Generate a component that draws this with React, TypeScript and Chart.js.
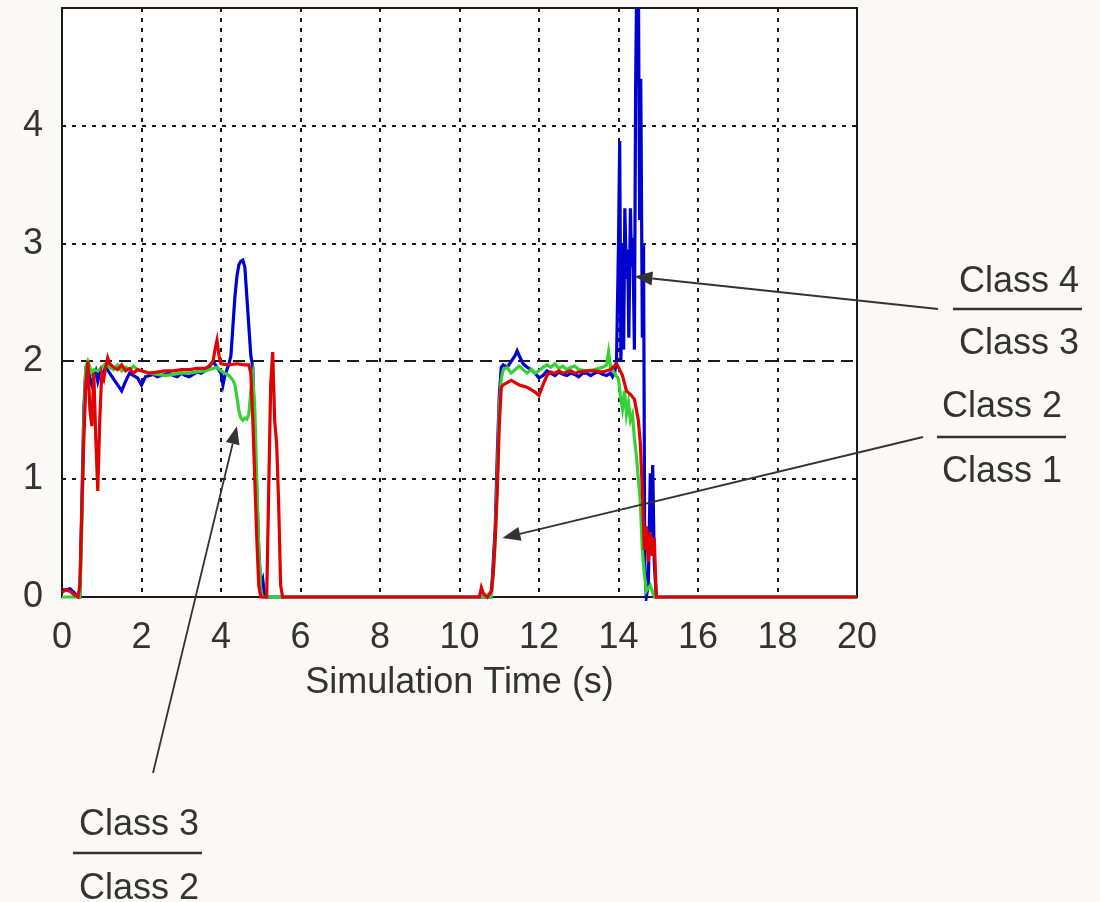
import React, { useEffect, useRef } from "react";
import { Chart, registerables } from "chart.js";

Chart.register(...registerables);

// ---- Data (time in s, ratio value) ----
const xTickValues = [0, 2, 4, 6, 8, 10, 12, 14, 16, 18, 20];
const yTickValues = [0, 1, 2, 3, 4];
const axisTitle = "Simulation Time (s)";

// Class 4 / Class 3 (blue)
const ratio43: [number, number][] = [
  [0, 0.06], [0.1, 0.06], [0.2, 0.07], [0.3, 0.04], [0.4, 0], [0.45, 0], [0.5, 0.8], [0.55, 1.6],
  [0.6, 1.95], [0.65, 1.98], [0.7, 1.85], [0.75, 1.8], [0.8, 1.88], [0.85, 1.92], [0.9, 1.83],
  [0.95, 1.9], [1.0, 1.88], [1.1, 1.95], [1.2, 1.9], [1.3, 1.85], [1.4, 1.8], [1.5, 1.75],
  [1.6, 1.83], [1.7, 1.9], [1.8, 1.88], [1.9, 1.86], [2.0, 1.8], [2.1, 1.87], [2.2, 1.88],
  [2.3, 1.89], [2.4, 1.87], [2.5, 1.88], [2.6, 1.89], [2.7, 1.9], [2.8, 1.88], [2.9, 1.87],
  [3.0, 1.9], [3.1, 1.88], [3.2, 1.87], [3.3, 1.89], [3.4, 1.91], [3.5, 1.9], [3.6, 1.92],
  [3.7, 1.95], [3.8, 2.0], [3.9, 1.95], [4.0, 1.9], [4.05, 1.8], [4.1, 1.88], [4.2, 1.98],
  [4.25, 2.05], [4.3, 2.3], [4.35, 2.55], [4.4, 2.72], [4.45, 2.82], [4.5, 2.85], [4.55, 2.86],
  [4.6, 2.8], [4.65, 2.55], [4.7, 2.3], [4.75, 2.05], [4.8, 1.95], [4.85, 1.3], [4.9, 0.9],
  [4.95, 0.4], [5.0, 0.1], [5.05, 0.15], [5.1, 0],
  [10.8, 0], [10.85, 0.3], [10.9, 0.6], [10.95, 1.2], [11.0, 1.7], [11.05, 1.95], [11.1, 1.97],
  [11.2, 1.95], [11.3, 2.0], [11.4, 2.05], [11.45, 2.09], [11.5, 2.05], [11.6, 1.98], [11.7, 1.95],
  [11.8, 1.93], [11.9, 1.9], [12.0, 1.86], [12.1, 1.88], [12.2, 1.92], [12.3, 1.9], [12.4, 1.88],
  [12.5, 1.91], [12.6, 1.89], [12.7, 1.88], [12.8, 1.9], [12.9, 1.89], [13.0, 1.87], [13.1, 1.9],
  [13.2, 1.9], [13.3, 1.88], [13.4, 1.9], [13.5, 1.91], [13.6, 1.89], [13.7, 1.88], [13.8, 1.9],
  [13.85, 1.87], [13.9, 1.9], [13.95, 2.0], [14.0, 3.0], [14.03, 3.87], [14.06, 2.0], [14.1, 3.0],
  [14.13, 2.1], [14.16, 3.3], [14.2, 2.7], [14.23, 2.95], [14.26, 2.2], [14.3, 3.3], [14.33, 2.8],
  [14.36, 3.05], [14.4, 2.1], [14.43, 4.3], [14.46, 5.3], [14.5, 5.3], [14.53, 3.2], [14.56, 4.4],
  [14.6, 2.2], [14.63, 3.0], [14.66, 0.3], [14.7, 0], [14.75, 0.1], [14.8, 1.05], [14.83, 0.5],
  [14.86, 1.12], [14.9, 0.3], [14.95, 0], [20, 0],
];

// Class 3 / Class 2 (green)
const ratio32: [number, number][] = [
  [0, 0], [0.45, 0], [0.5, 0.6], [0.55, 1.5], [0.6, 1.95], [0.65, 2.0], [0.7, 1.95], [0.75, 1.9],
  [0.8, 1.93], [0.9, 1.92], [1.0, 1.95], [1.1, 1.98], [1.2, 1.95], [1.3, 1.93], [1.4, 1.97],
  [1.5, 1.92], [1.6, 1.95], [1.7, 1.93], [1.8, 1.96], [1.9, 1.93], [2.0, 1.92], [2.2, 1.9],
  [2.4, 1.89], [2.6, 1.88], [2.8, 1.89], [3.0, 1.9], [3.2, 1.9], [3.4, 1.91], [3.6, 1.92],
  [3.8, 1.94], [3.9, 1.95], [4.0, 1.92], [4.1, 1.9], [4.2, 1.88], [4.3, 1.84], [4.35, 1.8],
  [4.4, 1.7], [4.45, 1.58], [4.5, 1.52], [4.55, 1.5], [4.6, 1.52], [4.65, 1.51], [4.7, 1.55],
  [4.75, 1.75], [4.8, 1.87], [4.85, 1.6], [4.9, 1.0], [4.95, 0.4], [5.0, 0.05], [5.05, 0],
  [10.8, 0], [10.85, 0.2], [10.9, 0.5], [10.95, 1.0], [11.0, 1.6], [11.05, 1.85], [11.1, 1.93],
  [11.2, 1.95], [11.3, 1.9], [11.4, 1.93], [11.5, 1.96], [11.6, 1.93], [11.7, 1.9], [11.8, 1.93],
  [11.9, 1.9], [12.0, 1.92], [12.1, 1.95], [12.2, 1.97], [12.3, 1.95], [12.4, 1.98], [12.5, 1.94],
  [12.6, 1.96], [12.7, 1.93], [12.8, 1.95], [12.9, 1.96], [13.0, 1.93], [13.2, 1.92], [13.4, 1.93],
  [13.6, 1.95], [13.7, 1.97], [13.75, 2.08], [13.8, 1.95], [13.9, 1.9], [14.0, 1.85], [14.05, 1.7],
  [14.1, 1.6], [14.15, 1.75], [14.2, 1.55], [14.25, 1.65], [14.3, 1.5], [14.35, 1.55], [14.4, 1.35],
  [14.45, 1.2], [14.5, 1.0], [14.55, 0.8], [14.6, 0.4], [14.65, 0.2], [14.7, 0.05], [14.8, 0.1],
  [14.9, 0], [20, 0],
];

// Class 2 / Class 1 (red)
const ratio21: [number, number][] = [
  [0, 0.04], [0.1, 0.06], [0.2, 0.05], [0.3, 0.02], [0.4, 0], [0.45, 0.1], [0.5, 0.75], [0.55, 1.35],
  [0.6, 1.8], [0.65, 2.0], [0.7, 1.6], [0.75, 1.45], [0.8, 1.9], [0.85, 1.35], [0.9, 0.9],
  [0.95, 1.5], [1.0, 1.9], [1.05, 1.85], [1.1, 1.95], [1.15, 2.03], [1.2, 1.98], [1.3, 1.95],
  [1.4, 1.93], [1.5, 1.97], [1.6, 1.92], [1.7, 1.94], [1.8, 1.9], [1.9, 1.93], [2.0, 1.92],
  [2.2, 1.9], [2.4, 1.91], [2.6, 1.92], [2.8, 1.92], [3.0, 1.93], [3.2, 1.93], [3.4, 1.94],
  [3.6, 1.94], [3.7, 1.96], [3.8, 2.0], [3.85, 2.1], [3.9, 2.18], [3.95, 2.05], [4.0, 1.98],
  [4.2, 1.97], [4.4, 1.98], [4.6, 1.97], [4.7, 1.97], [4.75, 1.9], [4.8, 1.5], [4.85, 1.0],
  [4.9, 0.5], [4.95, 0.1], [5.0, 0], [5.15, 0], [5.2, 0.9], [5.25, 1.8], [5.3, 2.08], [5.35, 1.5],
  [5.4, 1.3], [5.45, 0.8], [5.5, 0.1], [5.55, 0],
  [10.5, 0], [10.55, 0.08], [10.6, 0.03], [10.7, 0], [10.8, 0.05], [10.85, 0.2], [10.9, 0.5],
  [10.95, 0.9], [11.0, 1.45], [11.05, 1.78], [11.1, 1.8], [11.2, 1.82], [11.3, 1.84], [11.4, 1.82],
  [11.5, 1.8], [11.6, 1.79], [11.7, 1.78], [11.8, 1.76], [11.9, 1.74], [12.0, 1.71], [12.1, 1.8],
  [12.2, 1.88], [12.3, 1.91], [12.4, 1.9], [12.5, 1.92], [12.6, 1.9], [12.7, 1.91], [12.8, 1.92],
  [12.9, 1.9], [13.0, 1.91], [13.2, 1.92], [13.4, 1.92], [13.6, 1.91], [13.8, 1.93], [13.95, 1.98],
  [14.0, 1.95], [14.1, 1.88], [14.2, 1.75], [14.3, 1.72], [14.4, 1.68], [14.5, 1.5], [14.55, 1.3],
  [14.6, 0.9], [14.65, 0.4], [14.7, 0.6], [14.75, 0.3], [14.8, 0.55], [14.85, 0.35], [14.9, 0.5],
  [14.95, 0], [20, 0],
];

// Annotations: fraction labels with arrows pointing at data points
const annotationNumerators = ["Class 4", "Class 2", "Class 3"];
const annotationDenominators = ["Class 3", "Class 1", "Class 2"];
const arrowTargets: [number, number][] = [[14.4, 2.72], [11.08, 0.5], [4.4, 1.45]];

const FONT = '"Liberation Sans", Arial, Helvetica, sans-serif';
const TEXT = "#333333";

// layout of the annotation blocks (pixels)
const annotLayout = [
  { cx: 1019, numBase: 292, lineY: 309, lineX1: 953, lineX2: 1082, denBase: 354, tail: [938, 309] },
  { cx: 1002, numBase: 417, lineY: 437, lineX1: 937, lineX2: 1066, denBase: 482, tail: [923, 437] },
  { cx: 139, numBase: 835, lineY: 853, lineX1: 73, lineX2: 202, denBase: 899, tail: [153, 773] },
];

const bgPlugin = {
  id: "bg",
  beforeDraw(chart: any) {
    const { ctx, chartArea: a } = chart;
    ctx.save();
    ctx.fillStyle = "#fbf9f7";
    ctx.fillRect(0, 0, chart.width, chart.height);
    ctx.fillStyle = "#ffffff";
    ctx.fillRect(a.left, a.top, a.right - a.left, a.bottom - a.top);
    ctx.restore();
  },
  beforeDatasetsDraw(chart: any) {
    const { ctx, chartArea: a } = chart;
    ctx.save();
    ctx.strokeStyle = "#1a1a1a";
    ctx.lineWidth = 2;
    ctx.strokeRect(a.left, a.top, a.right - a.left, a.bottom - a.top);
    ctx.restore();
  },
};

const annotPlugin = {
  id: "annot",
  afterDraw(chart: any) {
    const { ctx, scales } = chart;
    ctx.save();
    ctx.fillStyle = TEXT;
    ctx.strokeStyle = TEXT;
    ctx.font = `36px ${FONT}`;
    ctx.textAlign = "center";
    ctx.textBaseline = "alphabetic";
    annotLayout.forEach((L, i) => {
      ctx.fillText(annotationNumerators[i], L.cx, L.numBase);
      ctx.fillText(annotationDenominators[i], L.cx, L.denBase);
      ctx.lineWidth = 2.5;
      ctx.beginPath();
      ctx.moveTo(L.lineX1, L.lineY);
      ctx.lineTo(L.lineX2, L.lineY);
      ctx.stroke();
      // arrow
      const tx = scales.x.getPixelForValue(arrowTargets[i][0]);
      const ty = scales.y.getPixelForValue(arrowTargets[i][1]);
      const [sx, sy] = L.tail;
      const ang = Math.atan2(ty - sy, tx - sx);
      const headLen = 18;
      const headW = 7;
      const bx = tx - headLen * Math.cos(ang);
      const by = ty - headLen * Math.sin(ang);
      ctx.lineWidth = 1.8;
      ctx.beginPath();
      ctx.moveTo(sx, sy);
      ctx.lineTo(bx, by);
      ctx.stroke();
      ctx.beginPath();
      ctx.moveTo(tx, ty);
      ctx.lineTo(bx + headW * Math.sin(ang), by - headW * Math.cos(ang));
      ctx.lineTo(bx - headW * Math.sin(ang), by + headW * Math.cos(ang));
      ctx.closePath();
      ctx.fill();
    });
    ctx.restore();
  },
};

const toPoints = (arr: [number, number][]) => arr.map(([x, y]) => ({ x, y }));

export default function App() {
  const ref = useRef<HTMLCanvasElement | null>(null);

  useEffect(() => {
    if (!ref.current) return;
    const lineBase = {
      pointRadius: 0,
      borderWidth: 3.2,
      tension: 0,
      fill: false,
      clip: { left: 4, right: 4, top: 0, bottom: 4 },
    };
    const chart = new Chart(ref.current, {
      type: "line",
      data: {
        datasets: [
          { ...lineBase, label: "Class 2 / Class 1", data: toPoints(ratio21), borderColor: "#e00000", order: 0 },
          { ...lineBase, label: "Class 3 / Class 2", data: toPoints(ratio32), borderColor: "#33d133", order: 1 },
          { ...lineBase, label: "Class 4 / Class 3", data: toPoints(ratio43), borderColor: "#0000d0", order: 2 },
        ],
      },
      options: {
        animation: false,
        responsive: false,
        maintainAspectRatio: false,
        layout: { autoPadding: false, padding: { left: 0, top: 8, right: 243, bottom: 197 } },
        plugins: { legend: { display: false }, tooltip: { enabled: false } },
        scales: {
          x: {
            type: "linear",
            min: 0,
            max: 20,
            afterBuildTicks: (s: any) => {
              s.ticks = xTickValues.map((v) => ({ value: v }));
            },
            afterFit: (s: any) => {
              s.height = 108;
              s.paddingLeft = 0;
              s.paddingRight = 0;
            },
            grid: { color: "#1a1a1a", lineWidth: 2, drawTicks: false },
            border: { display: false, dash: [4, 6] },
            ticks: {
              padding: 19,
              color: TEXT,
              maxRotation: 0,
              autoSkip: false,
              font: { family: FONT, size: 36 },
              callback: (v: any) => String(v),
            },
            title: {
              display: true,
              text: axisTitle,
              color: TEXT,
              font: { family: FONT, size: 36 },
              padding: { top: 0, bottom: 0 },
            },
          },
          y: {
            type: "linear",
            min: 0,
            max: 5,
            afterBuildTicks: (s: any) => {
              s.ticks = yTickValues.map((v) => ({ value: v }));
            },
            afterFit: (s: any) => {
              s.width = 62;
              s.paddingTop = 0;
              s.paddingBottom = 0;
            },
            grid: { color: "#1a1a1a", lineWidth: 2, drawTicks: false },
            border: {
              display: false,
              dash: (c: any) => (c.tick && c.tick.value === 2 ? [12, 7] : [4, 6]),
            },
            ticks: {
              padding: 19,
              color: TEXT,
              font: { family: FONT, size: 36 },
              callback: (v: any) => String(v),
            },
          },
        },
      },
      plugins: [bgPlugin, annotPlugin],
    } as any);
    return () => chart.destroy();
  }, []);

  return (
    <div style={{ position: "fixed", left: 0, top: 0, width: 1100, height: 902, background: "#fbf9f7" }}>
      <canvas ref={ref} width={1100} height={902} style={{ display: "block", width: 1100, height: 902 }} />
    </div>
  );
}
